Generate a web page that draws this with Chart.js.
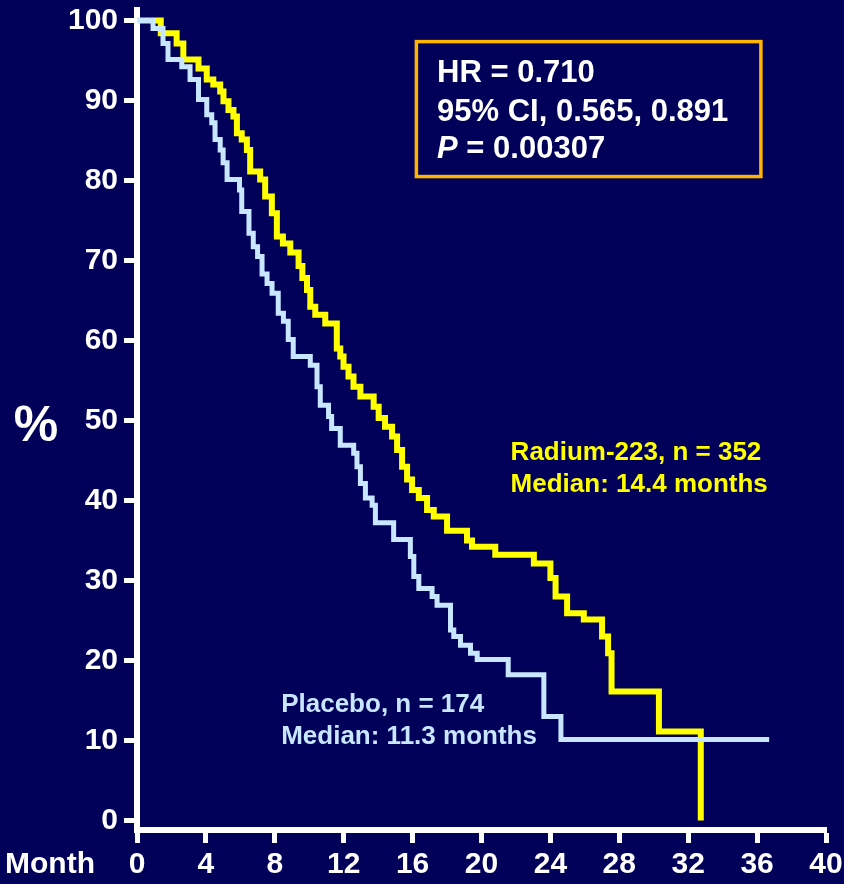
<!DOCTYPE html>
<html>
<head>
<meta charset="utf-8">
<script src="https://cdn.jsdelivr.net/npm/chart.js@4/dist/chart.umd.min.js"></script>
<style>
  html, body { margin: 0; padding: 0; background: #01015a; }
  canvas { display: block; }
</style>
</head>
<body>
<canvas id="km" width="844" height="884"></canvas>
<script>
// Overall survival (Kaplan–Meier): months on x, percent surviving on y.

const percentTicks = [0, 10, 20, 30, 40, 50, 60, 70, 80, 90, 100];

const radiumMonths = [
  0, 1.38, 2.3, 2.69, 3.57, 4.05, 4.43, 4.83, 5.02, 5.31, 5.6, 5.8, 6.08, 6.38, 6.57,
  7.15, 7.44, 7.83, 8.12, 8.47, 8.9, 9.38, 9.6, 9.87, 10.06, 10.35, 10.93, 11.6, 11.8,
  11.99, 12.28, 12.57, 12.97, 13.74, 14.03, 14.4, 14.81, 15.1, 15.39, 15.68, 15.97,
  16.36, 16.84, 17.23, 18.0, 19.16, 19.45, 20.8, 23.04, 24.0, 24.3, 24.97, 25.94,
  27.0, 27.35, 27.55, 30.3, 32.73
];
const radiumSurvival = [
  100, 98.4, 97.1, 95.1, 94.0, 92.6, 92.0, 91.1, 89.9, 88.8, 88.0, 85.9, 85.1, 83.8, 81.1,
  80.1, 78.0, 75.9, 73.0, 72.1, 71.0, 69.3, 67.8, 66.3, 64.2, 63.2, 62.1, 59.0, 58.0,
  56.7, 55.5, 54.2, 53.0, 51.7, 50.3, 49.2, 48.0, 46.3, 44.2, 42.6, 41.3,
  40.3, 38.8, 38.0, 36.2, 35.0, 34.2, 33.2, 32.1, 30.3, 28.0, 25.9, 25.1,
  23.0, 20.9, 16.1, 11.1, 0
];

const placeboMonths = [
  0, 0.93, 1.51, 1.8, 2.6, 3.08, 3.57, 4.05, 4.34, 4.53, 4.83, 5.0, 5.23, 5.95, 6.08,
  6.5, 6.75, 7.0, 7.26, 7.55, 7.84, 8.2, 8.5, 8.78, 9.07, 10.06, 10.45, 10.64, 11.12,
  11.3, 11.8, 12.58, 12.77, 12.97, 13.26, 13.65, 13.84, 14.9, 15.87, 16.07, 16.36,
  17.13, 17.42, 18.2, 18.39, 18.78, 19.36, 19.75, 21.55, 23.62, 24.61, 36.7
];
const placeboSurvival = [
  100, 99.0, 97.1, 95.1, 94.2, 92.6, 90.1, 88.2, 87.2, 85.1, 83.8, 82.2, 80.1, 78.8, 76.1,
  73.4, 71.7, 70.5, 68.3, 67.1, 65.9, 63.4, 62.4, 60.1, 58.0, 56.9, 54.2, 51.9, 50.5,
  49.0, 46.9, 45.9, 44.2, 42.1, 40.3, 39.4, 37.2, 35.1, 33.0, 30.5, 29.0,
  28.0, 26.9, 23.8, 23.0, 21.9, 20.9, 20.1, 18.2, 13.0, 10.1, 10.1
];

const radiumLabel = ['Radium-223, n = 352', 'Median: 14.4 months'];
const placeboLabel = ['Placebo, n = 174', 'Median: 11.3 months'];
const statLines = ['HR = 0.710', '95% CI, 0.565, 0.891'];
const pSymbol = 'P';
const pText = ' = 0.00307';
const yCaption = '%';
const xCaption = 'Month';

const FONT = '"Liberation Sans", Arial, Helvetica, sans-serif';
const WHITE = '#ffffff';
const YELLOW = '#ffff00';
const SKY = '#c8e6ff';
const GOLD = '#ffb400';

const toPoints = (xs, ys) => xs.map((t, i) => ({ x: t, y: ys[i] }));

// Slide text: axis captions, the statistics box and the series notes.
const slideText = {
  id: 'slideText',
  afterDraw(chart) {
    const { ctx, chartArea, scales: { x, y } } = chart;
    ctx.save();
    ctx.textBaseline = 'middle';
    ctx.fillStyle = WHITE;

    ctx.font = `bold 50px ${FONT}`;
    ctx.textAlign = 'center';
    ctx.fillText(yCaption, 36, y.getPixelForValue(49.1));

    ctx.font = `bold 30px ${FONT}`;
    ctx.textAlign = 'left';
    ctx.fillText(xCaption, 5, chartArea.bottom + 35);

    // statistics box
    const bx1 = x.getPixelForValue(16.22), bx2 = x.getPixelForValue(36.22);
    const by1 = y.getPixelForValue(97.35), by2 = y.getPixelForValue(80.48);
    ctx.strokeStyle = GOLD;
    ctx.lineWidth = 3.5;
    ctx.strokeRect(bx1, by1, bx2 - bx1, by2 - by1);

    ctx.textBaseline = 'alphabetic';
    const tx = x.getPixelForValue(17.42);
    ctx.font = `bold 31px ${FONT}`;
    ctx.fillText(statLines[0], tx, y.getPixelForValue(92.3));
    ctx.fillText(statLines[1], tx, y.getPixelForValue(87.45));
    const pY = y.getPixelForValue(82.75);
    ctx.font = `italic bold 31px ${FONT}`;
    ctx.fillText(pSymbol, tx, pY);
    const pw = ctx.measureText(pSymbol).width;
    ctx.font = `bold 31px ${FONT}`;
    ctx.fillText(pText, tx + pw, pY);

    // series notes
    ctx.font = `bold 26px ${FONT}`;
    ctx.fillStyle = YELLOW;
    const rx = x.getPixelForValue(21.69);
    ctx.fillText(radiumLabel[0], rx, y.getPixelForValue(45.06));
    ctx.fillText(radiumLabel[1], rx, y.getPixelForValue(41.06));
    ctx.fillStyle = SKY;
    const px = x.getPixelForValue(8.37);
    ctx.fillText(placeboLabel[0], px, y.getPixelForValue(13.56));
    ctx.fillText(placeboLabel[1], px, y.getPixelForValue(9.56));
    ctx.restore();
  }
};

const tickFont = { family: FONT, size: 30, weight: 'bold', lineHeight: 1.2 };

function noScalePadding(scale) {
  scale.paddingTop = 0; scale.paddingBottom = 0;
  scale.paddingLeft = 0; scale.paddingRight = 0;
}

new Chart(document.getElementById('km'), {
  type: 'line',
  data: {
    datasets: [
      {
        label: placeboLabel[0],
        data: toPoints(placeboMonths, placeboSurvival),
        borderColor: SKY,
        borderWidth: 5,
        stepped: 'before',
        pointRadius: 0,
        fill: false,
        borderJoinStyle: 'miter',
        borderCapStyle: 'butt'
      },
      {
        label: radiumLabel[0],
        data: toPoints(radiumMonths, radiumSurvival),
        borderColor: YELLOW,
        borderWidth: 6,
        stepped: 'before',
        pointRadius: 0,
        fill: false,
        borderJoinStyle: 'miter',
        borderCapStyle: 'butt'
      }
    ]
  },
  options: {
    responsive: false,
    animation: false,
    events: [],
    layout: { padding: { top: 10, right: 18, bottom: 0, left: 0 } },
    plugins: { legend: { display: false }, tooltip: { enabled: false } },
    scales: {
      x: {
        type: 'linear',
        min: 0,
        max: 40,
        ticks: { stepSize: 4, color: WHITE, font: tickFont, padding: 4, maxRotation: 0, autoSkip: false },
        grid: { display: true, drawOnChartArea: false, drawTicks: true, tickLength: 13, tickWidth: 5, tickColor: WHITE },
        border: { display: true, color: WHITE, width: 6 },
        afterFit(scale) { scale.height = 54; noScalePadding(scale); }
      },
      y: {
        type: 'linear',
        min: -1.2,
        max: 101.3,
        afterBuildTicks(scale) { scale.ticks = percentTicks.map(v => ({ value: v })); },
        ticks: { color: WHITE, font: tickFont, padding: 6 },
        grid: { display: true, drawOnChartArea: false, drawTicks: true, tickLength: 13, tickWidth: 5, tickColor: WHITE },
        border: { display: true, color: WHITE, width: 6 },
        afterFit(scale) { scale.width = 137; noScalePadding(scale); }
      }
    }
  },
  plugins: [slideText]
});
</script>
</body>
</html>
